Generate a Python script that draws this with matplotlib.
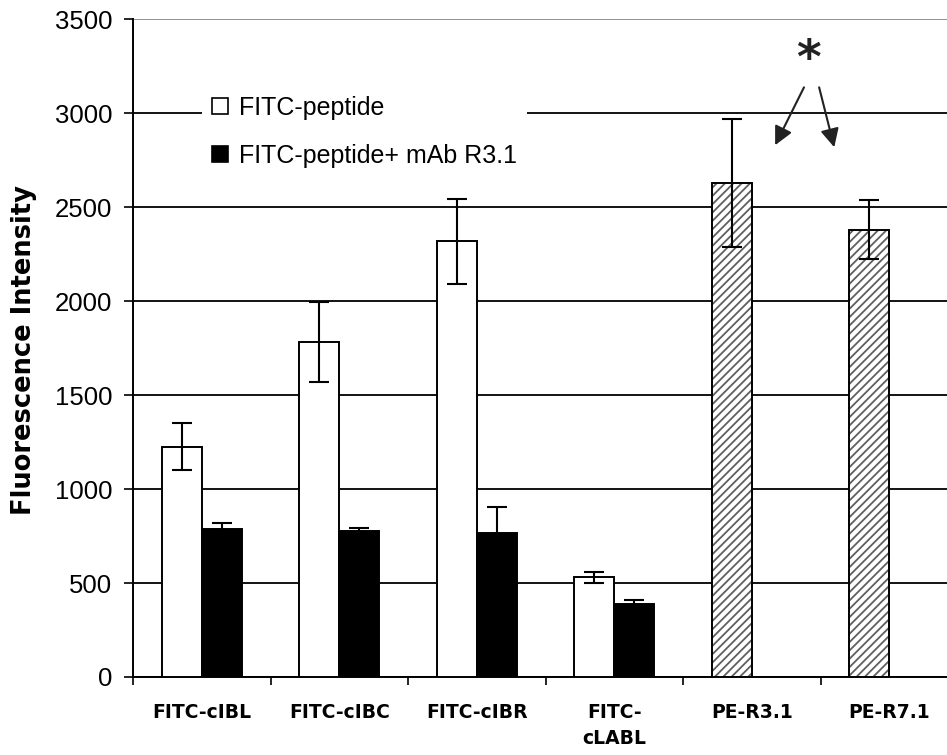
import matplotlib
matplotlib.use("Agg")
import matplotlib.pyplot as plt
import numpy as np
from matplotlib.patches import Patch

# ---- data ----
categories = ["FITC-cIBL", "FITC-cIBC", "FITC-cIBR", "FITC-\ncLABL", "PE-R3.1", "PE-R7.1"]
fitc_peptide = [1225, 1783, 2319, 530]
fitc_peptide_err = [125, 215, 225, 30]
fitc_mab = [790, 775, 765, 390]
fitc_mab_err = [30, 20, 140, 20]
pe_values = [2630, 2380]
pe_err = [340, 157]
legend_labels = ["FITC-peptide", "FITC-peptide+ mAb R3.1"]
y_ticks = [0, 500, 1000, 1500, 2000, 2500, 3000, 3500]

W, H = 947, 755
fig = plt.figure(figsize=(W / 100, H / 100), dpi=100)
ax = fig.add_axes([133 / W, 1 - 677 / H, 825 / W, (677 - 19.3) / H])

w = 0.29
x = np.arange(len(categories))
xf = x[:4]
xp = x[4:]

ekw = dict(ecolor="black", elinewidth=1.5, capsize=7.5, capthick=1.5, zorder=4)

ax.bar(xf - w / 2, fitc_peptide, w, color="white", edgecolor="black", linewidth=1.4, zorder=3)
ax.errorbar(xf - w / 2, fitc_peptide, yerr=fitc_peptide_err, fmt="none", **ekw)
ax.bar(xf + w / 2, fitc_mab, w, color="black", edgecolor="black", linewidth=1.4, zorder=3)
ax.errorbar(xf + w / 2, fitc_mab, yerr=fitc_mab_err, fmt="none", **ekw)

plt.rcParams["hatch.linewidth"] = 1.3
ax.bar(xp - w / 2, pe_values, w, color="white", edgecolor="#5f5f5f", hatch="////", linewidth=0, zorder=3)
ax.bar(xp - w / 2, pe_values, w, fill=False, edgecolor="black", linewidth=1.4, zorder=3.5)
ax.errorbar(xp - w / 2, pe_values, yerr=pe_err, fmt="none", **ekw)

# axes styling
ax.set_xlim(-0.5, len(categories) - 0.5)
ax.set_ylim(0, 3500)
ax.set_yticks(y_ticks)
ax.set_yticklabels([str(t) for t in y_ticks], fontfamily="Liberation Sans", fontsize=18.5)
ax.yaxis.grid(True, color="black", linewidth=1.3, zorder=0)
ax.set_axisbelow(True)
gl = ax.get_ygridlines()
gl[-1].set_color("#8a8a8a")
for s in ["top", "right"]:
    ax.spines[s].set_visible(False)
ax.spines["left"].set_linewidth(1.4)
ax.spines["bottom"].set_linewidth(1.4)
ax.tick_params(axis="y", length=6.5, width=1.2, pad=8.5, direction="out")

ax.set_xticks(x)
ax.set_xticklabels(categories, fontfamily="DejaVu Sans", fontweight="bold",
                   fontsize=13.5, linespacing=1.45)
ax.set_xticks(np.arange(len(categories) + 1) - 0.5, minor=True)
ax.tick_params(axis="x", which="major", length=0, pad=19)
ax.tick_params(axis="x", which="minor", length=6, width=1.2, direction="out")

fig.text(24 / W, 1 - 350 / H, "Fluorescence Intensity", rotation=90, ha="center", va="center",
         fontfamily="DejaVu Sans", fontweight="bold", fontsize=18.5)

# legend
handles = [Patch(facecolor="white", edgecolor="black", linewidth=1.2),
           Patch(facecolor="black", edgecolor="black", linewidth=1.2)]
leg = ax.legend(handles, legend_labels, loc="upper left",
                bbox_to_anchor=(202 / W, 1 - 86 / H), bbox_transform=fig.transFigure,
                prop={"family": "Liberation Sans", "size": 18}, frameon=True,
                fancybox=False, framealpha=1, edgecolor="none", facecolor="white",
                borderpad=0.4, borderaxespad=0, handlelength=0.64, handleheight=0.64,
                handletextpad=0.45, labelspacing=0.95)
leg.set_zorder(5)

# asterisk and arrows
ax.text(4.41, 3213, "*", ha="center", va="baseline", fontfamily="DejaVu Sans",
        fontweight="bold", fontsize=34, color="#222222", zorder=6)
akw = dict(arrowstyle="-|>", color="#222222", lw=1.5, mutation_scale=28, shrinkA=0, shrinkB=0)
ax.annotate("", xy=(4.17, 2830), xytext=(4.38, 3138), arrowprops=akw, zorder=6)
ax.annotate("", xy=(4.60, 2819), xytext=(4.49, 3138), arrowprops=akw, zorder=6)

fig.savefig("out.png", dpi=100)
